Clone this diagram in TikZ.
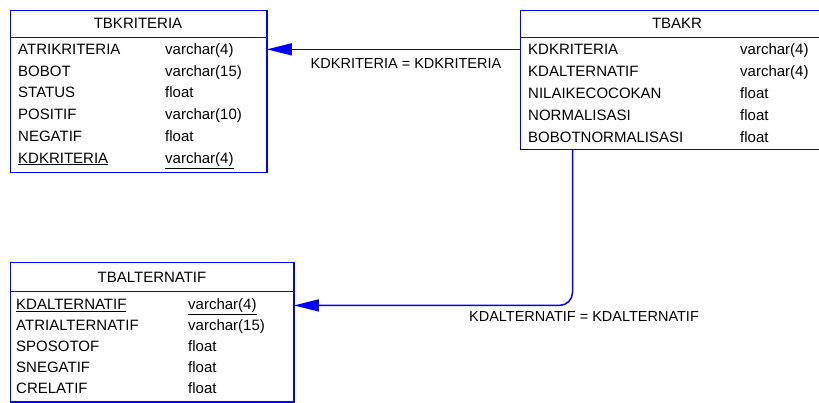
\documentclass[tikz,border=0pt]{standalone}
\usepackage{fontspec}
\setmainfont{Liberation Sans}
\usetikzlibrary{arrows.meta, positioning}

\tikzset{
  tbl/.style={anchor=north west, inner sep=0pt},
  edge/.style={draw=blue, line width=1.2pt},
  ttl/.style={font=\fontsize{15}{18}\selectfont, anchor=base, inner sep=0pt},
  fld/.style={font=\fontsize{15}{18}\selectfont, anchor=base west, inner sep=0pt},
  rel/.style={draw=blue, line width=1.5pt, -{Triangle[length=25pt, width=12pt]}},
  rellbl/.style={font=\fontsize{14.5}{17}\selectfont, inner sep=0pt}
}

\begin{document}
\begin{tikzpicture}[x=1pt, y=-1pt]
  \clip (0, 0) rectangle (819, 403);

  % tables
  \node[tbl, minimum width=256pt, minimum height=162pt] (kriteria) at (10.5, 10.5) {};
  \node[tbl, minimum width=314pt, minimum height=139pt] (akr) at (520.5, 10.5) {};
  \node[tbl, minimum width=283pt, minimum height=139pt] (alt) at (10.5, 262.5) {};
  \draw[edge]
  (kriteria.north west) rectangle (kriteria.south east)
  (akr.north west) rectangle (akr.south east)
  (alt.north west) rectangle (alt.south east)
  (kriteria.west |- 0, 37.5) -- (kriteria.east |- 0, 37.5)
  (akr.west |- 0, 37.5) -- (akr.east |- 0, 37.5)
  (alt.west |- 0, 291.5) -- (alt.east |- 0, 291.5);

  \node[ttl] (kriteria-t) at (138, 28.6) {TBKRITERIA};
  \node[ttl] (akr-t) at (677, 28.4) {TBAKR};
  \node[ttl] (alt-t) at (152, 283) {TBALTERNATIF};

  % fields
  \foreach \nm/\tp [count=\i] in {ATRIKRITERIA/varchar(4), BOBOT/varchar(15),
      STATUS/float, POSITIF/varchar(10), NEGATIF/float,
      {\underline{KDKRITERIA}}/{\underline{varchar(4)}}} {
    \node[fld] (kriteria-\i) at (18, 54.3 + 21.8*\i - 21.8) {\nm};
    \node[fld] (kriteria-\i t) at (165, 54.3 + 21.8*\i - 21.8) {\tp};
  }
  \foreach \nm/\tp [count=\i] in {KDKRITERIA/varchar(4), KDALTERNATIF/varchar(4),
      NILAIKECOCOKAN/float, NORMALISASI/float, BOBOTNORMALISASI/float} {
    \node[fld] (akr-\i) at (528, 54.5 + 22*\i - 22) {\nm};
    \node[fld] (akr-\i t) at (740, 54.5 + 22*\i - 22) {\tp};
  }
  \foreach \nm/\tp [count=\i] in {{\underline{KDALTERNATIF}}/{\underline{varchar(4)}},
      ATRIALTERNATIF/varchar(15), SPOSOTOF/float, SNEGATIF/float, CRELATIF/float} {
    \node[fld] (alt-\i) at (16, 309.6 + 21*\i - 21) {\nm};
    \node[fld] (alt-\i t) at (188, 309.6 + 21*\i - 21) {\tp};
  }

  % relations
  \draw[rel] (akr.west |- akr-1) -- (kriteria.east |- akr-1);
  \node[rellbl] (lbl-kriteria) at (406, 64) {KDKRITERIA = KDKRITERIA};
  \draw[rel, rounded corners=13pt] ([xshift=52pt]akr.south west) |- (alt.east |- alt-1);
  \node[rellbl] (lbl-alt) at (584, 317) {KDALTERNATIF = KDALTERNATIF};
\end{tikzpicture}
\end{document}
